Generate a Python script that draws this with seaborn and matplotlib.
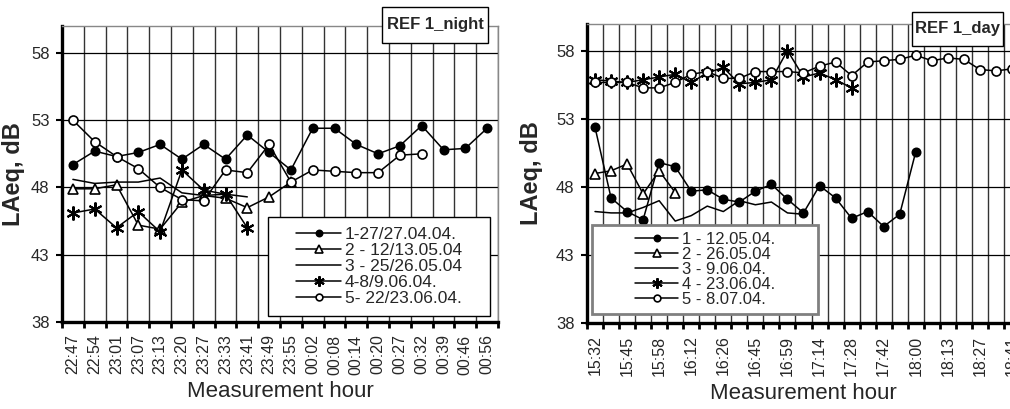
import numpy as np
import seaborn as sns
from matplotlib import pyplot as plt
from matplotlib.patches import Rectangle

# ---- night panel (REF 1_night) ----
night_hours = ['22:47', '22:54', '23:01', '23:07', '23:13', '23:20', '23:27', '23:33', '23:41', '23:49',
               '23:55', '00:02', '00:08', '00:14', '00:20', '00:27', '00:32', '00:39', '00:46', '00:56']
night_labels = ['1-27/27.04.04.', '2 - 12/13.05.04', '3 - 25/26.05.04', '4-8/9.06.04.', '5- 22/23.06.04.']
night_1 = [49.7, 50.7, 50.3, 50.6, 51.2, 50.1, 51.2, 50.1, 51.9, 50.6,
           49.3, 52.4, 52.4, 51.2, 50.5, 51.1, 52.6, 50.8, 50.9, 52.4]
night_2 = [47.9, 47.9, 48.2, 45.2, 44.9, 46.9, 47.4, 47.2, 46.5, 47.3, 48.4]
night_3 = [48.6, 48.3, 48.4, 48.4, 48.7, 47.6, 47.4, 47.5, 47.3]
night_4 = [46.1, 46.4, 45.0, 46.2, 44.7, 49.3, 47.8, 47.5, 45.0]
night_5 = [53.0, 51.4, 50.3, 49.4, 48.0, 47.1, 47.0, 49.3, 49.1, 51.2,
           48.4, 49.3, 49.2, 49.1, 49.1, 50.4, 50.5]

# ---- day panel (REF 1_day) ----
day_count = 27
day_hours = ['15:32', '15:45', '15:58', '16:12', '16:26', '16:45', '16:59',
             '17:14', '17:28', '17:42', '18:00', '18:13', '18:27', '18:41']
day_labels = ['1 - 12.05.04.', '2 - 26.05.04', '3 - 9.06.04.', '4 - 23.06.04.', '5 - 8.07.04.']
day_1 = [52.4, 47.2, 46.2, 45.6, 49.8, 49.5, 47.7, 47.8, 47.1, 46.9, 47.7,
         48.2, 47.1, 46.1, 48.1, 47.2, 45.7, 46.2, 45.1, 46.0, 50.6]
day_2 = [49.0, 49.2, 49.7, 47.5, 49.2, 47.6]
day_3 = [46.2, 46.1, 46.1, 46.5, 47.0, 45.5, 45.9, 46.6, 46.2, 47.0, 46.7, 46.9, 46.1, 46.0]
day_4 = [55.9, 55.8, 55.7, 55.9, 56.1, 56.3, 55.7, 56.4, 56.8, 55.6, 55.7, 55.9,
         58.05, 56.1, 56.4, 55.9, 55.3]
day_5 = [55.7, 55.7, 55.7, 55.3, 55.3, 55.7, 56.3, 56.5, 56.0, 56.0, 56.5, 56.5, 56.5,
         56.4, 56.9, 57.2, 56.2, 57.2, 57.3, 57.4, 57.7, 57.3, 57.5, 57.4, 56.65, 56.55, 56.7]

sns.set_theme(style='white')
plt.rcParams['font.family'] = ['Liberation Sans', 'DejaVu Sans']

styles = [
    dict(marker='o', markersize=6, markerfacecolor='black'),
    dict(marker='^', markersize=7, markerfacecolor='white'),
    dict(marker=None),
    dict(marker=(6, 2, 0), markersize=10, markeredgewidth=1.5),
    dict(marker='o', markersize=6.5, markerfacecolor='white'),
]


def draw_panel(ax, n, series, labels, tick_step, tick_labels, box, box_edge, box_lw, fs, lsp):
    for vals, lab, st in zip(series, labels, styles):
        st = dict(st)
        mew = st.pop('markeredgewidth', 1.2)
        sns.lineplot(x=np.arange(len(vals)), y=vals, ax=ax, color='black', linewidth=1.1,
                     markeredgecolor='black', markeredgewidth=mew, label=lab, **st)
    ax.set_xlim(-0.5, n - 0.5)
    ax.set_ylim(38, 60)
    ax.set_yticks([38, 43, 48, 53, 58])
    ax.set_xticks(np.arange(0, n, tick_step))
    ax.set_xticklabels(tick_labels, rotation=90)
    ax.set_xticks(np.arange(n + 1) - 0.5, minor=True)
    ax.tick_params(axis='x', which='major', length=0, pad=9, labelsize=11.5)
    ax.tick_params(axis='x', which='minor', length=4, width=2, color='black', bottom=True)
    ax.tick_params(axis='y', length=4, width=1.5, color='black', left=True, pad=5, labelsize=12)
    ax.grid(axis='x', which='minor', color='#333333', linewidth=1)
    ax.grid(axis='y', which='major', color='black', linewidth=0.9)
    for side in ['left', 'bottom']:
        ax.spines[side].set_linewidth(2.4)
        ax.spines[side].set_color('black')
    for side in ['top', 'right']:
        ax.spines[side].set_linewidth(1)
        ax.spines[side].set_color('#888888')
    ax.set_xlabel('Measurement hour', fontsize=16)
    ax.set_ylabel('LAeq, dB', fontsize=17, fontweight='bold')

    ax.add_patch(Rectangle(box[:2], box[2], box[3], transform=ax.transAxes,
                           facecolor='white', edgecolor=box_edge, linewidth=box_lw, zorder=2.5))
    handles, labs = ax.get_legend_handles_labels()
    leg = ax.legend(handles, labs, loc='center', bbox_to_anchor=box, frameon=False,
                    fontsize=fs, handlelength=2.6, handletextpad=0.2, labelspacing=lsp,
                    markerscale=0.75, borderpad=0)
    leg.set_zorder(5)


fig = plt.figure(figsize=(10.1, 4.09), dpi=100)
ax1 = fig.add_axes([62 / 1010, 1 - 322 / 409, 436 / 1010, 296 / 409])
ax2 = fig.add_axes([587 / 1010, 1 - 323 / 409, 433 / 1010, 299 / 409])

draw_panel(ax1, len(night_hours), [night_1, night_2, night_3, night_4, night_5], night_labels,
           1, night_hours, (0.472, 0.02, 0.51, 0.335), 'black', 1, 12.5, 0.05)
draw_panel(ax2, day_count, [day_1, day_2, day_3, day_4, day_5], day_labels,
           2, day_hours, (0.0115, 0.03, 0.522, 0.298), '#808080', 2, 12, 0.0)

ax1.yaxis.set_label_coords(-0.085, 0.5)
ax2.yaxis.set_label_coords(-0.102, 0.5)
ax1.xaxis.set_label_coords(0.5, -0.2)
ax2.xaxis.set_label_coords(0.5, -0.2)

# title boxes
for (x0, y0, x1, y1), txt in [((382, 7, 488, 43), 'REF 1_night'), ((912, 12, 1003, 46), 'REF 1_day')]:
    fig.add_artist(Rectangle((x0 / 1010, 1 - y1 / 409), (x1 - x0) / 1010, (y1 - y0) / 409,
                             transform=fig.transFigure, facecolor='white', edgecolor='black',
                             linewidth=1, zorder=10))
    fig.text((x0 + x1) / 2 / 1010, 1 - (y0 + y1) / 2 / 409, txt, ha='center', va='center',
             fontsize=12, fontweight='bold', zorder=11)

fig.savefig('out.png', dpi=100, facecolor='white')
